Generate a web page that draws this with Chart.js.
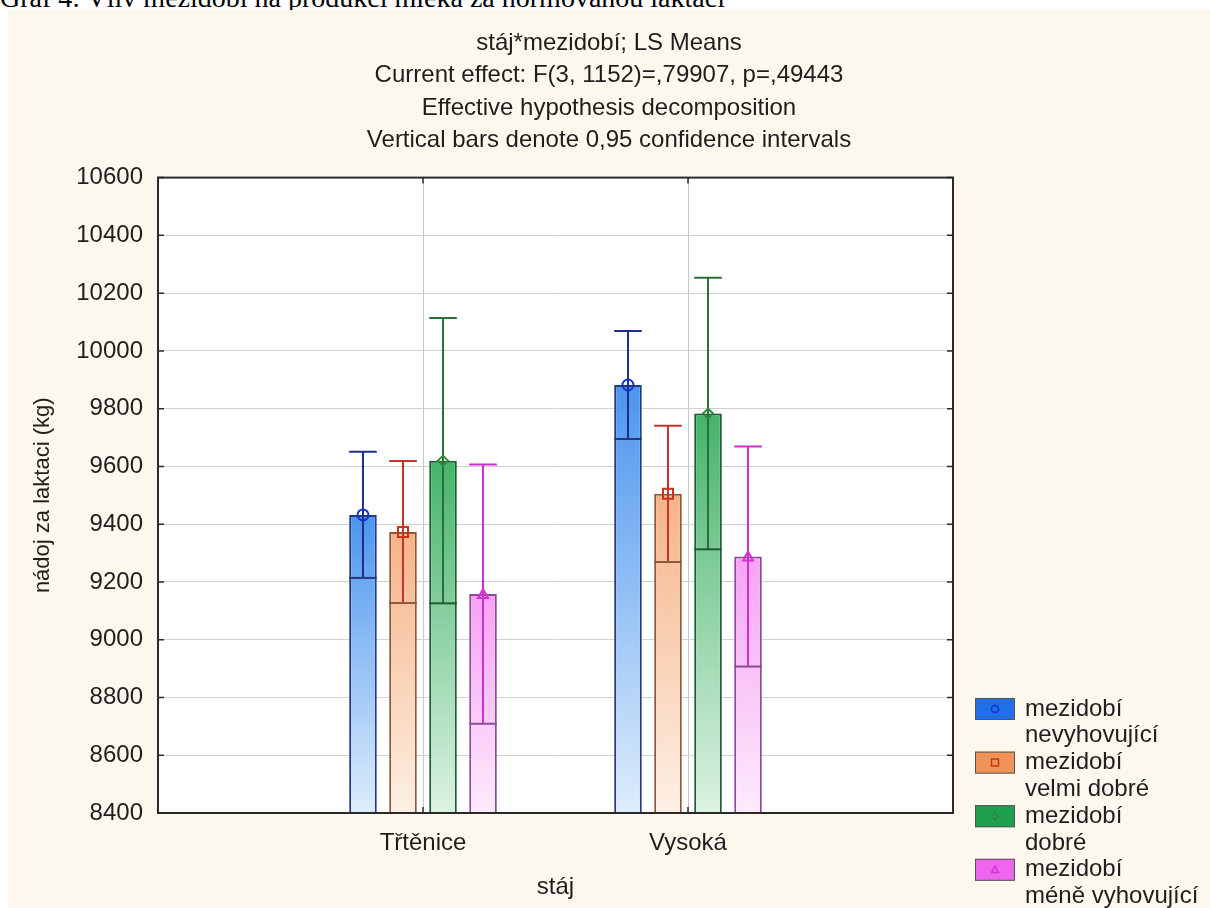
<!DOCTYPE html>
<html>
<head>
<meta charset="utf-8">
<script src="https://cdn.jsdelivr.net/npm/chart.js@4.4.0/dist/chart.umd.min.js"></script>
<style>
  html, body { margin: 0; padding: 0; background: #ffffff; width: 1210px; height: 908px; overflow: hidden; }
  #caption { position: absolute; left: 0; top: -16px; font-family: "Liberation Serif", "Times New Roman", serif;
             font-size: 28px; line-height: 28px; color: #000; white-space: nowrap; }
  #wrap { position: absolute; left: 8px; top: 10px; width: 1202px; height: 898px; background: #fcf8ee; }
  canvas { display: block; }
</style>
</head>
<body>
<div id="caption">Graf 4: Vliv mezidobí na produkci mléka za normovanou laktaci</div>
<div id="wrap"><canvas id="chart" width="1202" height="898"></canvas></div>
<script>
// Stables (x categories)
const categories = ['Třtěnice', 'Vysoká'];

// Series (period between calvings)
const seriesNames = ['mezidobí nevyhovující', 'mezidobí velmi dobré', 'mezidobí dobré', 'mezidobí méně vyhovující'];

// LS means of milk yield per lactation (kg)
const meanNevyhovujici   = [9432, 9882];
const meanVelmiDobre     = [9373, 9505];
const meanDobre          = [9620, 9783];
const meanMeneVyhovujici = [9158, 9288];

// 0,95 confidence limits
const lowerNevyhovujici   = [9214, 9695];
const upperNevyhovujici   = [9651, 10069];
const lowerVelmiDobre     = [9127, 9269];
const upperVelmiDobre     = [9619, 9741];
const lowerDobre          = [9126, 9313];
const upperDobre          = [10114, 10253];
const lowerMeneVyhovujici = [8709, 8907];
const upperMeneVyhovujici = [9607, 9669];

// Value axis
const yMin = 8400, yMax = 10600, yStep = 200;

const titleLines = [
  'stáj*mezidobí; LS Means',
  'Current effect: F(3, 1152)=,79907, p=,49443',
  'Effective hypothesis decomposition',
  'Vertical bars denote 0,95 confidence intervals'
];
const xTitle = 'stáj';
const yTitle = 'nádoj za laktaci (kg)';

const means  = [meanNevyhovujici, meanVelmiDobre, meanDobre, meanMeneVyhovujici];
const lowers = [lowerNevyhovujici, lowerVelmiDobre, lowerDobre, lowerMeneVyhovujici];
const uppers = [upperNevyhovujici, upperVelmiDobre, upperDobre, upperMeneVyhovujici];

const styles = [
  { top: '#4b95ee', bottom: '#deedfc', border: '#26397f', err: '#1f2d8a', marker: '#1432d2', swatch: '#1f6fe6', shape: 'circle' },
  { top: '#f6b387', bottom: '#fdf0e5', border: '#8c5a3a', err: '#c3342a', marker: '#d0301a', swatch: '#f09458', shape: 'square' },
  { top: '#45b46b', bottom: '#dcf2e3', border: '#1f5c30', err: '#2a7038', marker: '#2a8a3a', swatch: '#1ea04e', shape: 'diamond' },
  { top: '#f6a2f4', bottom: '#fdebfc', border: '#8b4c97', err: '#cc2fcc', marker: '#d830d8', swatch: '#ee66ee', shape: 'triangle' }
];

const FONT = '"Liberation Sans", Arial, sans-serif';
const TEXT = '#1e1e1e';

// Category axis with empty end slots so the stables sit at 1/3 and 2/3 of the width
const axisLabels = [''].concat(categories, ['']);

function gradientFill(style) {
  return (ctx) => {
    const chart = ctx.chart;
    const area = chart.chartArea;
    if (!area || ctx.type !== 'data' || ctx.raw == null || !chart.scales.y) return style.top;
    const yTop = chart.scales.y.getPixelForValue(ctx.raw);
    const g = chart.ctx.createLinearGradient(0, yTop, 0, area.bottom);
    g.addColorStop(0, style.top);
    g.addColorStop(1, style.bottom);
    return g;
  };
}

function drawShape(ctx, shape, x, y, s) {
  ctx.beginPath();
  if (shape === 'circle') {
    ctx.arc(x, y, s, 0, Math.PI * 2);
  } else if (shape === 'square') {
    ctx.rect(x - s, y - s, 2 * s, 2 * s);
  } else if (shape === 'diamond') {
    ctx.moveTo(x, y - s); ctx.lineTo(x + s, y); ctx.lineTo(x, y + s); ctx.lineTo(x - s, y); ctx.closePath();
  } else {
    ctx.moveTo(x, y - s); ctx.lineTo(x + s, y + s * 0.8); ctx.lineTo(x - s, y + s * 0.8); ctx.closePath();
  }
  ctx.stroke();
}

// White plot background
const plotBackground = {
  id: 'plotBackground',
  beforeDraw(chart) {
    const { ctx, chartArea: a } = chart;
    ctx.save();
    ctx.fillStyle = '#ffffff';
    ctx.fillRect(a.left, a.top, a.right - a.left, a.bottom - a.top);
    ctx.restore();
  }
};

// Confidence whiskers, mean markers, plot frame and inward tick marks
const overlay = {
  id: 'overlay',
  afterDatasetsDraw(chart) {
    const { ctx, chartArea: a, scales } = chart;
    const y = scales.y;
    ctx.save();
    means.forEach((_, i) => {
      const st = styles[i];
      const meta = chart.getDatasetMeta(i);
      meta.data.forEach((el, j) => {
        const c = j - 1;
        if (c < 0 || c >= categories.length) return;
        const x = el.x, w = el.width;
        const yHi = y.getPixelForValue(uppers[i][c]);
        const yLo = y.getPixelForValue(lowers[i][c]);
        ctx.lineWidth = 2;
        ctx.strokeStyle = st.err;
        ctx.beginPath();
        ctx.moveTo(x, yHi); ctx.lineTo(x, yLo);
        ctx.moveTo(x - w / 2, yHi); ctx.lineTo(x + w / 2, yHi);
        ctx.stroke();
        ctx.strokeStyle = st.border;
        ctx.beginPath();
        ctx.moveTo(x - w / 2, yLo); ctx.lineTo(x + w / 2, yLo);
        ctx.stroke();
        ctx.strokeStyle = st.marker;
        ctx.lineWidth = 2;
        drawShape(ctx, st.shape, x, el.y, st.shape === 'circle' ? 5.5 : 5);
      });
    });

    // frame
    ctx.strokeStyle = '#2a2a2a';
    ctx.lineWidth = 2;
    ctx.strokeRect(a.left, a.top, a.right - a.left, a.bottom - a.top);

    // inward ticks
    ctx.lineWidth = 1.5;
    ctx.beginPath();
    y.ticks.forEach((t) => {
      const py = y.getPixelForValue(t.value);
      ctx.moveTo(a.left, py); ctx.lineTo(a.left + 6, py);
      ctx.moveTo(a.right, py); ctx.lineTo(a.right - 6, py);
    });
    const xs = scales.x;
    for (let k = 1; k <= categories.length; k++) {
      const px = xs.getPixelForValue(k);
      ctx.moveTo(px, a.bottom); ctx.lineTo(px, a.bottom - 6);
      ctx.moveTo(px, a.top); ctx.lineTo(px, a.top + 6);
    }
    ctx.stroke();
    ctx.restore();
  }
};

// Legend in the lower right corner, names wrapped after the first word
const cornerLegend = {
  id: 'cornerLegend',
  afterDraw(chart) {
    const { ctx, chartArea: a } = chart;
    const boxX = a.right + 22, boxW = 40, boxH = 22;
    const textX = boxX + 50;
    const lineH = 26.8;
    const y0 = a.bottom - 104;
    ctx.save();
    ctx.font = '24px ' + FONT;
    ctx.textBaseline = 'middle';
    ctx.textAlign = 'left';
    seriesNames.forEach((name, i) => {
      const st = styles[i];
      const cy = y0 + i * lineH * 2;
      ctx.fillStyle = st.swatch;
      ctx.fillRect(boxX, cy - boxH / 2, boxW, boxH);
      ctx.strokeStyle = '#555555';
      ctx.lineWidth = 1;
      ctx.strokeRect(boxX + 0.5, cy - boxH / 2 + 0.5, boxW - 1, boxH - 1);
      ctx.strokeStyle = st.marker;
      ctx.lineWidth = 1.5;
      drawShape(ctx, st.shape, boxX + boxW / 2, cy, 3.5);
      const sp = name.indexOf(' ');
      const lines = sp > 0 ? [name.slice(0, sp), name.slice(sp + 1)] : [name];
      ctx.fillStyle = TEXT;
      lines.forEach((ln, k) => ctx.fillText(ln, textX, cy + k * lineH));
    });
    ctx.restore();
  }
};

new Chart(document.getElementById('chart'), {
  type: 'bar',
  data: {
    labels: axisLabels,
    datasets: means.map((m, i) => ({
      label: seriesNames[i],
      data: [null].concat(m, [null]),
      backgroundColor: gradientFill(styles[i]),
      borderColor: styles[i].border,
      borderWidth: 2,
      borderSkipped: false,
      categoryPercentage: 0.604,
      barPercentage: 0.69
    }))
  },
  options: {
    responsive: false,
    animation: false,
    devicePixelRatio: 1,
    layout: { padding: { left: 0, right: 0, top: 0, bottom: 0 } },
    plugins: {
      legend: { display: false },
      tooltip: { enabled: false },
      title: {
        display: true,
        text: titleLines,
        color: TEXT,
        font: { family: FONT, size: 24, weight: 'normal', lineHeight: 1.35 },
        padding: { top: 17, bottom: 21 }
      }
    },
    scales: {
      x: {
        offset: false,
        grid: { color: '#c6c6c6', lineWidth: 1, drawTicks: false, offset: false },
        border: { display: false },
        ticks: { color: TEXT, font: { family: FONT, size: 24 }, padding: 16, maxRotation: 0, autoSkip: false },
        title: { display: true, text: xTitle, color: TEXT, font: { family: FONT, size: 24, lineHeight: 1.2 }, padding: { top: 0, bottom: 6 } },
        afterFit(s) { s.height = 95; }
      },
      y: {
        min: yMin, max: yMax,
        grid: { color: '#d2d2d2', lineWidth: 1, drawTicks: false },
        border: { display: false },
        ticks: { stepSize: yStep, color: TEXT, font: { family: FONT, size: 24 }, padding: 15,
                 callback: (v) => String(v) },
        title: { display: true, text: yTitle, color: TEXT, font: { family: FONT, size: 22, lineHeight: 1.2 }, padding: { top: 22, bottom: 0 } },
        afterFit(s) { s.width = 150; }
      },
      yRight: {
        position: 'right',
        min: yMin, max: yMax,
        grid: { display: false },
        border: { display: false },
        ticks: { display: false },
        afterFit(s) { s.width = 257; }
      }
    }
  },
  plugins: [plotBackground, overlay, cornerLegend]
});
</script>
</body>
</html>
